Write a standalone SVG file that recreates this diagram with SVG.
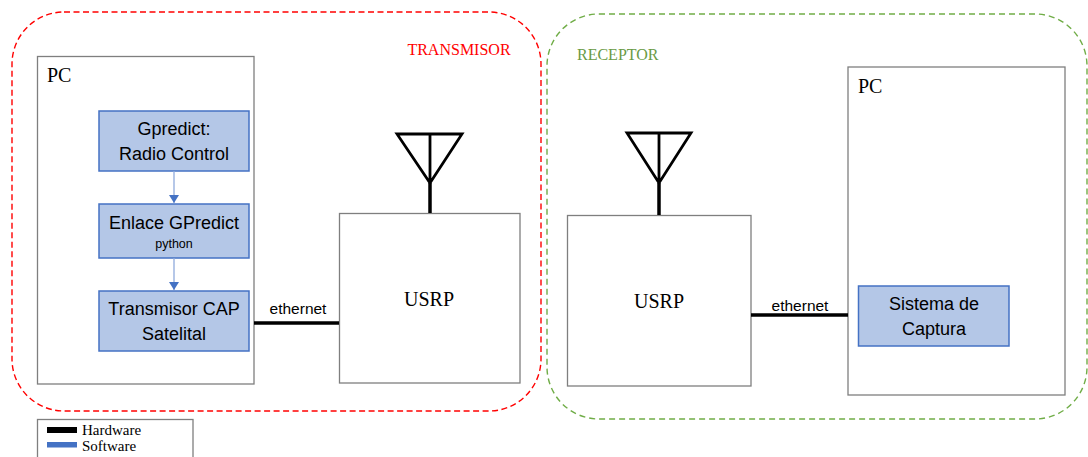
<svg xmlns="http://www.w3.org/2000/svg" width="1088" height="457" viewBox="0 0 1088 457">
<style>
.serif{font-family:"Liberation Serif","Times New Roman",serif;fill:#000}
.sans{font-family:"Liberation Sans",Arial,sans-serif;fill:#000}
.box{fill:#fff;stroke:#7f7f7f;stroke-width:1.3}
.sw{fill:#B4C7E7;stroke:#4472C4;stroke-width:1.5}
.hw{stroke:#000;stroke-width:3.5;fill:none}
.ant{stroke:#000;stroke-width:2.8;fill:none;stroke-linejoin:miter}
.swl{stroke:#8FAADC;stroke-width:1.3;fill:none}
</style>
<defs>
<marker id="ah" markerWidth="10" markerHeight="10" refX="8" refY="5" orient="auto" markerUnits="userSpaceOnUse">
<path d="M0,0 L8,5 L0,10 z" fill="#4472C4"/>
</marker>
</defs>
<rect width="1088" height="457" fill="#fff"/>

<g id="transmisor">
<rect x="12" y="12" width="529" height="399" rx="52" ry="52" fill="none" stroke="#FF0000" stroke-width="1.4" stroke-dasharray="6 3.5"/>
<text x="459" y="55" class="serif" font-size="16" text-anchor="middle" style="fill:#FF0000">TRANSMISOR</text>
</g>

<g id="receptor">
<rect x="547" y="14" width="540" height="405" rx="52" ry="52" fill="none" stroke="#70AD47" stroke-width="1.4" stroke-dasharray="6 4"/>
<text x="577" y="60" class="serif" font-size="16" style="fill:#6A9A45">RECEPTOR</text>
</g>

<g id="pc-tx">
<rect x="37.5" y="56.5" width="216.5" height="327.5" class="box"/>
<text x="47" y="82" class="serif" font-size="20">PC</text>
</g>

<g id="gpredict">
<rect x="99" y="111" width="150" height="60" class="sw"/>
<text x="174" y="135" class="sans" font-size="18" text-anchor="middle">Gpredict:</text>
<text x="174" y="160" class="sans" font-size="18" text-anchor="middle">Radio Control</text>
</g>

<g id="enlace">
<rect x="99" y="204" width="150" height="54" class="sw"/>
<text x="174" y="229" class="sans" font-size="18" text-anchor="middle">Enlace GPredict</text>
<text x="174" y="248" class="sans" font-size="12.5" text-anchor="middle">python</text>
</g>

<g id="transmisor-cap">
<rect x="99" y="291" width="150" height="60" class="sw"/>
<text x="174" y="315" class="sans" font-size="18" text-anchor="middle">Transmisor CAP</text>
<text x="174" y="340" class="sans" font-size="18" text-anchor="middle">Satelital</text>
</g>

<g id="usrp-tx">
<rect x="339.5" y="213.5" width="180.5" height="169.5" class="box"/>
<text x="429" y="306" class="serif" font-size="20" text-anchor="middle">USRP</text>
</g>

<g id="antenna-tx">
<path d="M397,134 L462,134 L430,183 Z M430,134 L430,183" class="ant"/>
<line x1="430" y1="183" x2="430" y2="213" stroke="#000" stroke-width="3.5"/>
</g>

<g id="usrp-rx">
<rect x="567.5" y="215.5" width="183.5" height="170.5" class="box"/>
<text x="659" y="308" class="serif" font-size="20" text-anchor="middle">USRP</text>
</g>

<g id="antenna-rx">
<path d="M627,133 L691,133 L659,183 Z M659,133 L659,183" class="ant"/>
<line x1="659" y1="183" x2="659" y2="215" stroke="#000" stroke-width="3.5"/>
</g>

<g id="pc-rx">
<rect x="848" y="67" width="217" height="328" class="box"/>
<text x="858" y="93" class="serif" font-size="20">PC</text>
</g>

<g id="sistema">
<rect x="858.5" y="286" width="150.5" height="60" class="sw"/>
<text x="934" y="310" class="sans" font-size="18" text-anchor="middle">Sistema de</text>
<text x="934" y="335" class="sans" font-size="18" text-anchor="middle">Captura</text>
</g>

<g id="connectors">
<line x1="174" y1="171" x2="174" y2="203" class="swl" marker-end="url(#ah)"/>
<line x1="174" y1="258" x2="174" y2="290" class="swl" marker-end="url(#ah)"/>
<line x1="254" y1="323" x2="339" y2="323" class="hw"/>
<text x="298" y="314" class="sans" font-size="15.5" text-anchor="middle">ethernet</text>
<line x1="751" y1="315" x2="848" y2="315" class="hw"/>
<text x="800" y="311" class="sans" font-size="15.5" text-anchor="middle">ethernet</text>
</g>

<g id="legend">
<rect x="37.5" y="419.5" width="155.5" height="50" class="box"/>
<rect x="47" y="427" width="30" height="6" fill="#000"/>
<rect x="47" y="442" width="30" height="5.5" fill="#4472C4"/>
<text x="82" y="435" class="serif" font-size="15">Hardware</text>
<text x="82" y="451" class="serif" font-size="15">Software</text>
</g>
</svg>
